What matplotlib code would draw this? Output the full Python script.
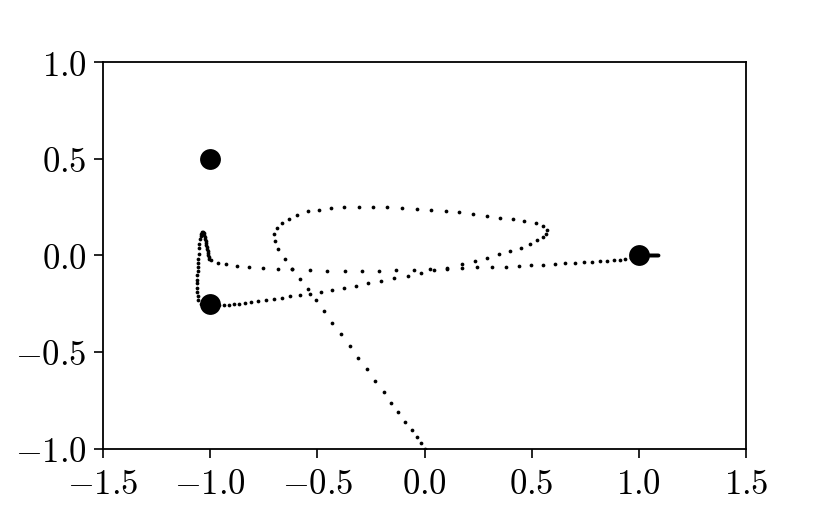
import numpy as np
import matplotlib
matplotlib.use("Agg")
import matplotlib.pyplot as plt
from matplotlib.ticker import FuncFormatter

plt.rcParams["mathtext.fontset"] = "cm"

# three bodies
body_x = [-1.0, -1.0, 1.0]
body_y = [0.5, -0.25, 0.0]

# trajectory samples (bottom -> loop -> hook -> right body)
traj_x = [
    0.000, -0.016, -0.036, -0.060, -0.090, -0.122, -0.156, -0.190, -0.229, -0.268,
    -0.309, -0.349, -0.390, -0.430, -0.470, -0.508, -0.545, -0.581, -0.617, -0.651,
    -0.682, -0.698, -0.701, -0.690, -0.666, -0.632, -0.593, -0.545, -0.492, -0.436,
    -0.374, -0.307, -0.242, -0.174, -0.105, -0.036, 0.032, 0.099, 0.162, 0.228,
    0.292, 0.351, 0.412, 0.466, 0.519, 0.553, 0.570, 0.566, 0.554, 0.526,
    0.491, 0.449, 0.400, 0.348, 0.293, 0.236, 0.175, 0.106, 0.046, -0.015,
    -0.079, -0.141, -0.203, -0.263, -0.321, -0.376, -0.430, -0.483, -0.533, -0.582,
    -0.626, -0.665, -0.703, -0.740, -0.775, -0.808, -0.838, -0.864, -0.887, -0.911,
    -0.935, -0.960, -0.990, -1.020, -1.045,
    -1.055, -1.058, -1.060, -1.060, -1.060, -1.060, -1.060, -1.058, -1.058, -1.057,
    -1.055, -1.054, -1.052, -1.051, -1.047, -1.045, -1.042, -1.040, -1.037,
    -1.034, -1.030, -1.027, -1.025, -1.023, -1.021, -1.020, -1.018, -1.016, -1.014,
    -1.012, -1.010, -1.008, -1.006, -1.004, -0.997,
    -0.965, -0.925, -0.875, -0.818, -0.754, -0.684, -0.616, -0.532, -0.453, -0.372,
    -0.291, -0.213, -0.132, -0.051, 0.027, 0.105, 0.174, 0.244, 0.314, 0.379,
    0.441, 0.499, 0.554, 0.607, 0.657, 0.704, 0.746, 0.783, 0.819, 0.853,
    0.884, 0.911, 0.937, 0.963, 0.987, 1.010, 1.033,
    1.038, 1.043, 1.048, 1.052, 1.057, 1.061, 1.066, 1.071, 1.076, 1.080, 1.085, 1.089,
]
traj_y = [
    -1.000, -0.970, -0.939, -0.905, -0.862, -0.813, -0.762, -0.707, -0.650, -0.591,
    -0.531, -0.471, -0.410, -0.350, -0.291, -0.234, -0.176, -0.123, -0.069, -0.017,
    0.031, 0.074, 0.109, 0.141, 0.169, 0.190, 0.210, 0.228, 0.236, 0.243,
    0.248, 0.252, 0.252, 0.250, 0.245, 0.239, 0.236, 0.229, 0.224, 0.216,
    0.203, 0.195, 0.186, 0.177, 0.165, 0.151, 0.131, 0.109, 0.097, 0.079,
    0.060, 0.040, 0.024, 0.004, -0.012, -0.029, -0.045, -0.064, -0.076, -0.093,
    -0.108, -0.120, -0.133, -0.146, -0.157, -0.169, -0.178, -0.189, -0.198, -0.204,
    -0.212, -0.219, -0.226, -0.232, -0.238, -0.242, -0.247, -0.250, -0.253, -0.255,
    -0.259, -0.258, -0.256, -0.255, -0.250,
    -0.233, -0.212, -0.190, -0.169, -0.146, -0.126, -0.103, -0.083, -0.060, -0.040,
    -0.017, 0.009, 0.035, 0.060, 0.086, 0.098, 0.109, 0.114, 0.120,
    0.122, 0.114, 0.103, 0.093, 0.083, 0.072, 0.062, 0.052, 0.041, 0.031,
    0.021, 0.010, 0.000, -0.010, -0.018, -0.026,
    -0.038, -0.047, -0.055, -0.062, -0.067, -0.070, -0.072, -0.078, -0.079, -0.079,
    -0.079, -0.079, -0.078, -0.074, -0.072, -0.069, -0.065, -0.062, -0.060, -0.059,
    -0.057, -0.053, -0.049, -0.047, -0.041, -0.040, -0.036, -0.035, -0.031, -0.029,
    -0.027, -0.024, -0.021, -0.016, -0.010, -0.005, 0.000,
    0.002, 0.003, 0.003, 0.003, 0.003, 0.003, 0.003, 0.003, 0.003, 0.002, 0.002, 0.002,
]

x_ticks = [-1.5, -1.0, -0.5, 0.0, 0.5, 1.0, 1.5]
y_ticks = [-1.0, -0.5, 0.0, 0.5, 1.0]

fig = plt.figure(figsize=(8.3, 5.13), dpi=100)
ax = fig.add_axes([103 / 830, 1 - 448.5 / 513, 643 / 830, 386.5 / 513])

ax.plot(traj_x, traj_y, "o", color="k", markersize=2.7, markeredgewidth=0)
ax.plot(body_x, body_y, "o", color="k", markersize=15, markeredgewidth=0)

ax.set_xlim(-1.5, 1.5)
ax.set_ylim(-1.0, 1.0)
ax.set_xticks(x_ticks)
ax.set_yticks(y_ticks)
fmt = FuncFormatter(lambda v, pos: f"${v:.1f}$")
ax.xaxis.set_major_formatter(fmt)
ax.yaxis.set_major_formatter(fmt)
ax.tick_params(labelsize=25, length=6.5, width=1.2, pad=5)
ax.tick_params(axis="x", pad=7)
for s in ax.spines.values():
    s.set_linewidth(1.3)

fig.savefig("out.png", dpi=100)
